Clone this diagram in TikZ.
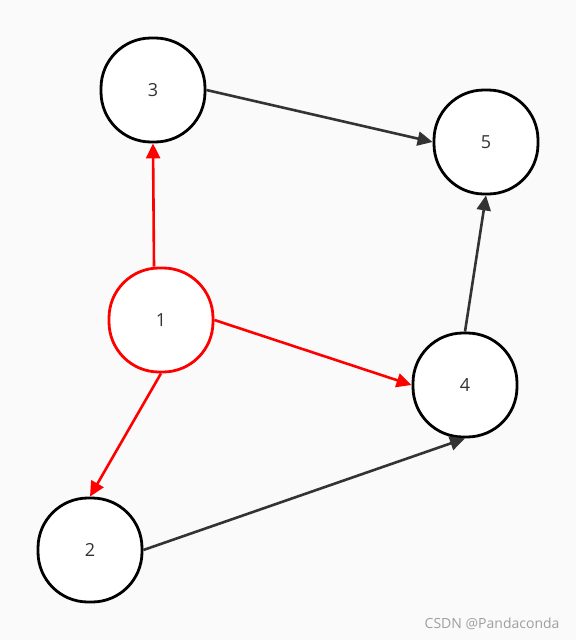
\documentclass[tikz,border=0pt]{standalone}
\usepackage{fontspec}
\setmainfont{Open Sans}
\usepackage{tikz}
\usetikzlibrary{arrows.meta}
\definecolor{bgcol}{HTML}{FAFAFA}
\definecolor{edgecol}{HTML}{333333}
\definecolor{textcol}{HTML}{333333}

\begin{document}
\begin{tikzpicture}[
            x=1pt, y=-1pt,
            vertex/.style={rectangle, rounded corners=50pt, draw=black, line width=2.8pt,
                fill=white, minimum size=104pt, inner sep=0pt, font=\fontsize{18}{21}\selectfont, text=textcol}, % rounded box for nodes
            edge/.style={draw=edgecol, line width=2.6pt, -{Triangle[length=15pt, width=14pt]}},
            redge/.style={edge, draw=red, -{Triangle[length=15pt, width=14pt, fill=red]}}
            ]
        \useasboundingbox[fill=bgcol] (0,0) rectangle (576,640);

                % Vertices
                \node[vertex] (n3) at (153,90) {3};
                \node[vertex] (n5) at (486,142) {5};
                \node[vertex, draw=red] (n1) at (161,320) {1};
                \node[vertex] (n4) at (465,385) {4};
                \node[vertex] (n2) at (90,550) {2};

                % Edges from vertex 1
                \draw[redge] ([xshift=-7pt]n1.north) -- (n3.south);
                \draw[redge] (n1.east) -- (n4.west);
                \draw[redge] (n1.south) -- (n2.north);

                % Other edges
                \draw[edge] (n3.east) -- (n5.west);
                \draw[edge] (n4.north) -- (n5.south);
                \draw[edge] (n2.east) -- (n4.south);

                \node[anchor=east, text=gray!75, font=\fontsize{14}{16}\selectfont] (mark) at (563,624) {CSDN @Pandaconda};

            \end{tikzpicture}
\end{document}
